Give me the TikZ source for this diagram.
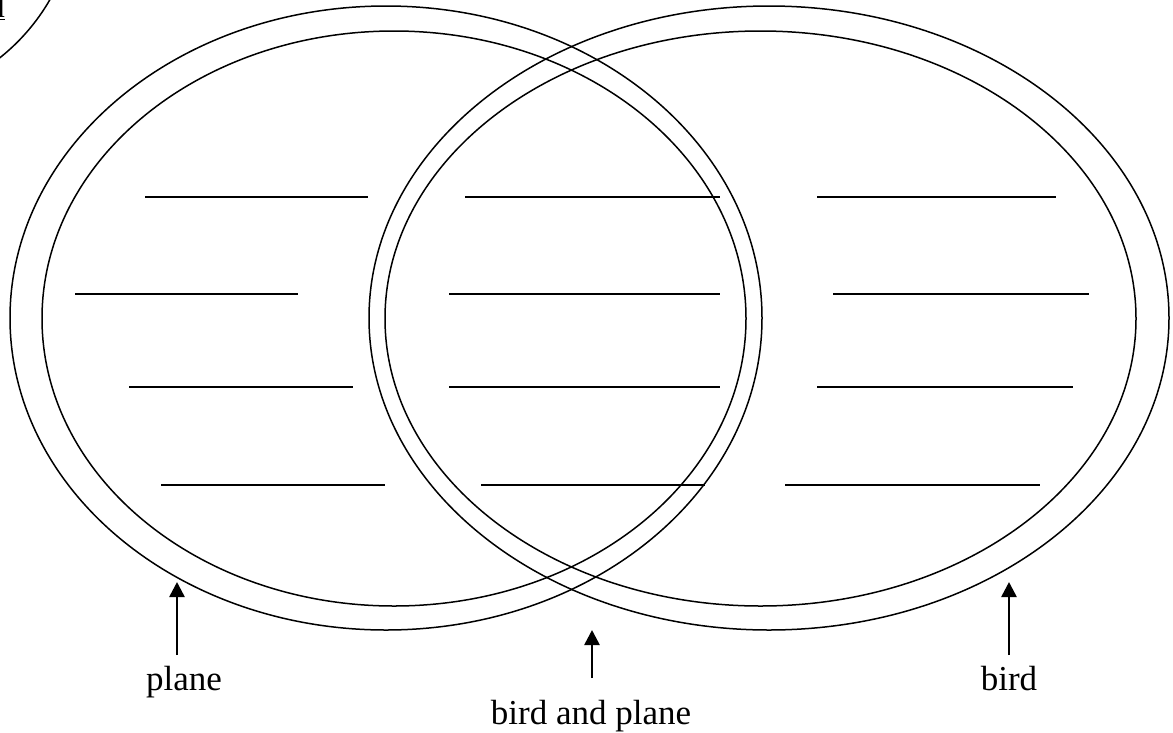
\documentclass[tikz,border=0pt]{standalone}
\usepackage{fontspec}
\setmainfont{Liberation Serif}
\usetikzlibrary{arrows.meta}

\begin{document}
\begin{tikzpicture}[
  x=1pt, y=-1pt,
  ring/.style  = {line width=1.5pt},
  blank/.style = {line width=1.2pt},
  flow/.style  = {-{Triangle[length=15pt, width=15pt]}, line width=2.6pt},
  lbl/.style   = {font=\fontsize{35}{42}\selectfont, inner sep=0pt, anchor=base}
]
\useasboundingbox (0,0) rectangle (1173,732);

% ---------------------------------------------------------- corner, cut off --
\draw[ring] (-127,-102) circle [radius=204];
\node[lbl, anchor=base east] (tag) at (5,17) {\underline{d}};

% --------------------------------------------------------------- the rings --
\draw[ring] (386,318)   ellipse [x radius=376,   y radius=312];
\draw[ring] (394,318.5) ellipse [x radius=352,   y radius=287.5];
\draw[ring] (769,318)   ellipse [x radius=400,   y radius=312];
\draw[ring] (760.5,318.5) ellipse [x radius=375.5, y radius=287.5];

% ------------------------------------------------------- lines to write on --
\foreach \xa/\xb/\yy in {145/368/197, 465/720/197, 817/1056/197,
                         75/298/294,  449/720/294, 833/1089/294,
                         129/353/387, 449/720/387, 817/1073/387,
                         161/385/485, 481/705/485, 785/1040/485}
  \draw[blank] (\xa,\yy) -- (\xb,\yy);

% ------------------------------------------------------------------ labels --
\node[lbl] (plane) at (184,690) {plane};
\node[lbl] (both)  at (591,724) {bird and plane};
\node[lbl] (bird)  at (1009,690) {bird};

\coordinate (pl-tail) at (177,655);  \coordinate (pl-tip) at (177,582);
\coordinate (bo-tail) at (592,678);  \coordinate (bo-tip) at (592,630);
\coordinate (bi-tail) at (1009,655); \coordinate (bi-tip) at (1009,582);

\draw[flow] (pl-tail) -- (pl-tip);
\draw[flow] (bo-tail) -- (bo-tip);
\draw[flow] (bi-tail) -- (bi-tip);

\end{tikzpicture}
\end{document}
